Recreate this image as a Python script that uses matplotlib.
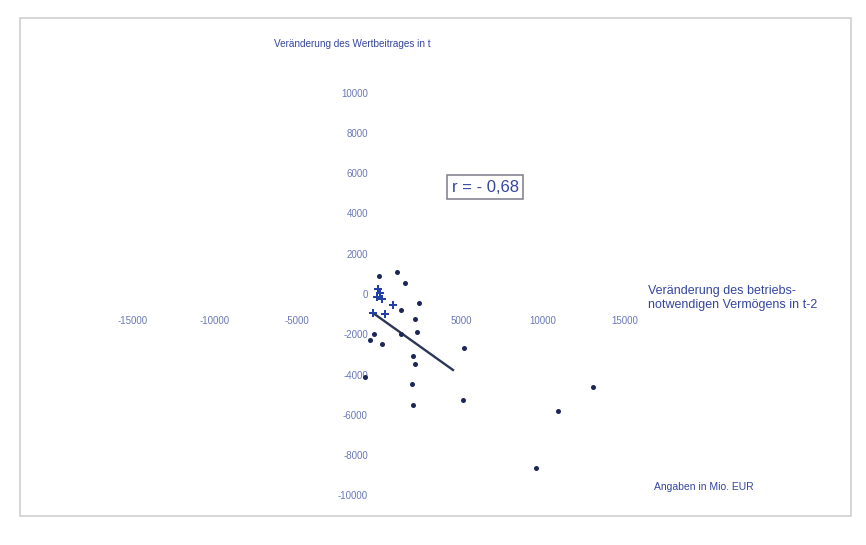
import matplotlib
matplotlib.use("Agg")
import matplotlib.pyplot as plt
from matplotlib.patches import Rectangle

plt.rcParams['font.family'] = ['Liberation Sans', 'DejaVu Sans']

# Change in operating assets (t-2) vs. change in value contribution (t), Mio. EUR
asset_change = [0, 1100, 1590, 2440, 1340, 2200, 2320, 1340, -300, -550, 180,
                5180, 2070, 2200, -850, 2010, 5120, 2070, 13050, 10920, 9570]
value_change = [890, 1090, 550, -450, -790, -1240, -1890, -1990, -1990, -2280, -2480,
                -2680, -3080, -3470, -4120, -4470, -5260, -5510, -4620, -5810, -8640]

# Dense cluster near the origin
cluster_x = [60, -120, 180, -60, 850, -370, 370]
cluster_y = [50, -150, -250, 250, -550, -940, -990]

# Regression line segment
trend_x = [-370, 4510]
trend_y = [-940, -3770]

x_ticks = [-15000, -10000, -5000, 5000, 10000, 15000]
y_ticks = [10000, 8000, 6000, 4000, 2000, 0, -2000, -4000, -6000, -8000, -10000]

correlation_label = "r = - 0,68"

tick_color = '#6a78b8'
text_color = '#3446a0'
dot_color = '#1c2757'

fig = plt.figure(figsize=(8.66, 5.45), dpi=100)
ax = fig.add_axes([0, 0, 1, 1])
ax.set_xlim(-379 * 60.98, (866 - 379) * 60.98)
ax.set_ylim((294 - 545) * 49.63, 294 * 49.63)

for side in ('top', 'right'):
    ax.spines[side].set_visible(False)
ax.spines['left'].set_position(('data', 0))
ax.spines['bottom'].set_position(('data', 0))
ax.spines['left'].set_color('none')
ax.spines['bottom'].set_color('none')

ax.set_xticks(x_ticks)
ax.set_xticklabels([str(v) for v in x_ticks])
ax.set_yticks(y_ticks)
ax.set_yticklabels([str(v) for v in y_ticks])
ax.tick_params(axis='x', length=0, pad=16, labelsize=7, labelcolor=tick_color)
ax.tick_params(axis='y', length=0, pad=8, labelsize=7, labelcolor=tick_color)

ax.plot(trend_x, trend_y, color='#2c3656', lw=1.7, zorder=2)
ax.scatter(asset_change, value_change, s=13, color=dot_color, zorder=3, linewidths=0)
ax.scatter(cluster_x, cluster_y, s=26, marker='P', color='#2240a8', zorder=3, linewidths=0)

fig.text(352 / 866, 1 - 44 / 545, "Veränderung des Wertbeitrages in t",
         ha='center', va='center', fontsize=7.2, color=text_color)
fig.text(648 / 866, 1 - 291 / 545, "Veränderung des betriebs-",
         ha='left', va='center', fontsize=9, color=text_color)
fig.text(648 / 866, 1 - 305 / 545, "notwendigen Vermögens in t-2",
         ha='left', va='center', fontsize=9, color=text_color)
fig.text(654 / 866, 1 - 487 / 545, "Angaben in Mio. EUR",
         ha='left', va='center', fontsize=7.5, color=text_color)
fig.text(485 / 866, 1 - 187 / 545, correlation_label,
         ha='center', va='center', fontsize=12, color='#3446a0',
         bbox=dict(boxstyle='square,pad=0.25', fc='white', ec='#7c7c8c', lw=1.1))

fig.patches.append(Rectangle((20 / 866, 1 - 516 / 545), (851 - 20) / 866, (516 - 18) / 545,
                             transform=fig.transFigure, fill=False, ec='#cfcfcf', lw=1.2))

fig.savefig("out.png", dpi=100, facecolor='white')
